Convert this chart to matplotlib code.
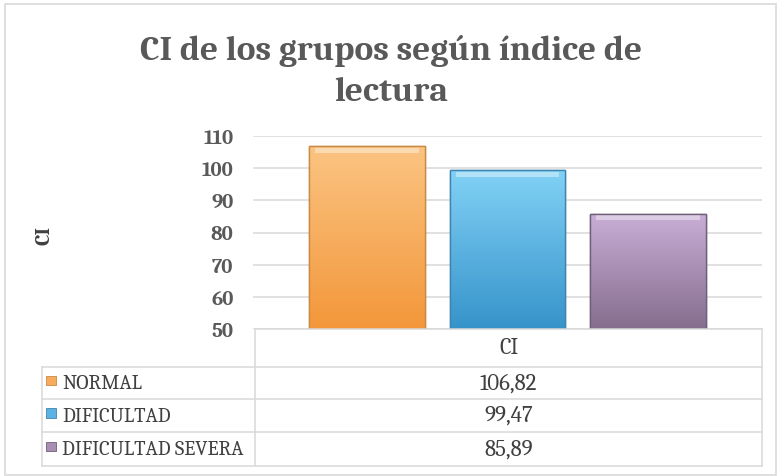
import numpy as np
import matplotlib
matplotlib.use("Agg")
import matplotlib.pyplot as plt
from matplotlib.lines import Line2D
from matplotlib.patches import Rectangle
from matplotlib.colors import LinearSegmentedColormap

# ---- data ----
category = "CI"
series = ["NORMAL", "DIFICULTAD", "DIFICULTAD SEVERA"]
values = [106.82, 99.47, 85.89]
value_labels = ["106,82", "99,47", "85,89"]
yticks = [50, 60, 70, 80, 90, 100, 110]
title = "CI de los grupos según índice de\nlectura"

# ---- styles ----
top_colors = ["#fbc482", "#82d2f6", "#c9aed6"]
bot_colors = ["#f3973a", "#3693ca", "#856e8e"]
edge_colors = ["#c98a45", "#3f84ae", "#6f5f78"]
mid_colors = ["#f6ac5c", "#5ab3e2", "#a88fb2"]
grid_c = "#d9d9d9"
FONT = "Caladea"

W, H = 778, 477
fig = plt.figure(figsize=(W / 100, H / 100), dpi=100)

def fx(px):
    return px / W

def fy(py):
    return 1 - py / H

# outer chart border
fig.add_artist(Rectangle((fx(5), fy(476)), fx(771), (476 - 5) / H,
                         fill=False, edgecolor=grid_c, lw=1.2,
                         transform=fig.transFigure))

ax_l, ax_r, ax_t, ax_b = 253, 762, 137, 330
ax = fig.add_axes([fx(ax_l), fy(ax_b), fx(ax_r - ax_l), (ax_b - ax_t) / H])
ax.set_xlim(-0.5, 0.5)
ax.set_ylim(yticks[0], yticks[-1])
ax.set_yticks(yticks)
ax.set_yticklabels([str(t) for t in yticks], fontfamily=FONT,
                   fontweight="bold", fontsize=15, color="#595959")
ax.tick_params(axis="y", length=0, pad=14)
ax.set_xticks([])
for s in ax.spines.values():
    s.set_visible(False)
ax.yaxis.grid(True, color=grid_c, lw=1.1)
ax.set_axisbelow(True)

n = len(series)
width = 0.226
step = 0.276
span = yticks[-1] - yticks[0]
for i, (v, tc, bc, ec) in enumerate(zip(values, top_colors, bot_colors, edge_colors)):
    x0 = (i - (n - 1) / 2) * step
    bar = ax.bar(x0, v - yticks[0], width=width, bottom=yticks[0],
                 color=mid_colors[i], edgecolor=ec, lw=1.0, zorder=3)[0]
    cmap = LinearSegmentedColormap.from_list("g%d" % i, [bc, tc])
    grad = np.linspace(0, 1, 256).reshape(-1, 1)
    im = ax.imshow(grad, cmap=cmap, origin="lower", aspect="auto",
                   extent=[x0 - width / 2, x0 + width / 2, yticks[0], v],
                   zorder=3.5)
    im.set_clip_path(bar)
    # top bevel highlight
    ax.bar(x0, span * 0.025, width=width * 0.9,
           bottom=v - span * 0.035,
           color="white", alpha=0.4, lw=0, zorder=4)
    ax.bar(x0, v - yticks[0], width=width, bottom=yticks[0],
           fill=False, edgecolor=ec, lw=1.0, zorder=5)

ax.set_xlim(-0.5, 0.5)
ax.set_ylim(yticks[0], yticks[-1])

# y label
fig.text(fx(44), fy(236), category, rotation=90, ha="center", va="center",
         fontfamily=FONT, fontweight="bold", fontsize=15, color="#404040")

# title (baseline alignment anchors the last line)
fig.text(fx(391), fy(101), title, ha="center", va="baseline", fontfamily=FONT,
         fontweight="bold", fontsize=25.5, color="#595959", linespacing=1.42,
         multialignment="center")

# ---- data table ----
tab_l, tab_div, tab_r = 42, 255, 762
rows_y = [330, 368, 400, 433, 467]

def hline(y, x1, x2):
    fig.add_artist(Line2D([fx(x1), fx(x2)], [fy(y), fy(y)], color=grid_c,
                          lw=1.1, transform=fig.transFigure))

def vline(x, y1, y2):
    fig.add_artist(Line2D([fx(x), fx(x)], [fy(y1), fy(y2)], color=grid_c,
                          lw=1.1, transform=fig.transFigure))

hline(rows_y[0], tab_div, tab_r)
for y in rows_y[1:]:
    hline(y, tab_l, tab_r)
vline(tab_l, rows_y[1], rows_y[-1])
vline(tab_div, rows_y[0], rows_y[-1])
vline(tab_r, rows_y[0], rows_y[-1])

cx = (tab_div + tab_r) / 2
fig.text(fx(cx), fy((rows_y[0] + rows_y[1]) / 2), category, ha="center",
         va="center", fontfamily=FONT, fontsize=16, color="#404040")
for i, (name, lab) in enumerate(zip(series, value_labels)):
    yc = (rows_y[i + 1] + rows_y[i + 2]) / 2
    fig.add_artist(Rectangle((fx(46), fy(yc + 2)), fx(10), 9.5 / H,
                             facecolor=mid_colors[i], edgecolor=edge_colors[i],
                             lw=0.6, transform=fig.transFigure))
    fig.text(fx(62), fy(yc), name, ha="left", va="center", fontfamily=FONT,
             fontsize=14.8, color="#404040")
    fig.text(fx(cx), fy(yc), lab, ha="center", va="center", fontfamily=FONT,
             fontsize=16.5, color="#404040")

fig.savefig("out.png", dpi=100)
